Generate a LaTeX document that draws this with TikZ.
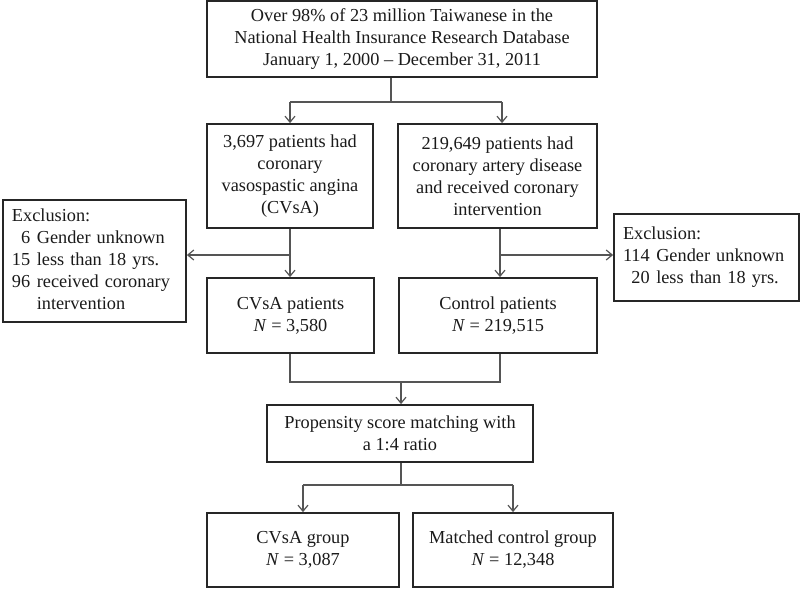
\documentclass[tikz,border=0pt]{standalone}
\usepackage{fontspec}
\setmainfont{Liberation Serif}
\usetikzlibrary{arrows.meta}
\definecolor{boxline}{HTML}{262626}
\definecolor{conline}{HTML}{555555}
\definecolor{txt}{HTML}{1A1A1A}
\tikzset{
  box/.style={draw=boxline, line width=1.8pt, inner sep=0pt, align=center, text=txt,
    font=\fontsize{18.3}{22}\selectfont},
  exbox/.style={box, align=left, inner xsep=9pt, text width=#1},
  conn/.style={draw=conline, line width=1.2pt},
  arr/.style={conn, -{Straight Barb[length=6pt,width=10pt,line width=1.2pt]}}
}
\begin{document}
\begin{tikzpicture}[x=1pt,y=-1pt]
\useasboundingbox[fill=white] (0,0) rectangle (800,589);
% boxes: center, width, height
\node[box, minimum width=390, minimum height=76] (top) at (402,39)
  {Over 98\% of 23 million Taiwanese in the\\National Health Insurance Research Database\\January 1, 2000 -- December 31, 2011};
\node[box, minimum width=166, minimum height=104] (b1l) at (290,176)
  {3,697 patients had\\coronary\\vasospastic angina\\(CVsA)};
\node[box, minimum width=199, minimum height=104] (b1r) at (497.5,176)
  {219,649 patients had\\coronary artery disease\\and received coronary\\intervention};
\node[exbox=165pt, minimum width=183, minimum height=122] (exL) at (94.5,261)
  {\begin{tabular}{@{}r@{\hspace{6.5pt}}l@{}}
   \multicolumn{2}{@{}l@{}}{Exclusion:}\\
   6 & Gender unknown\\
   15 & less than 18 yrs.\\
   96 & received coronary\\
      & intervention
   \end{tabular}};
\node[exbox=167pt, minimum width=185, minimum height=87] (exR) at (706.5,257.5)
  {\begin{tabular}{@{}r@{\hspace{6.5pt}}l@{}}
   \multicolumn{2}{@{}l@{}}{Exclusion:}\\
   114 & Gender unknown\\
   20 & less than 18 yrs.
   \end{tabular}};
\node[box, minimum width=167, minimum height=75] (b2l) at (290.5,315.5)
  {CVsA patients\\\textit{N} = 3,580};
\node[box, minimum width=198, minimum height=75] (b2r) at (498,315.5)
  {Control patients\\\textit{N} = 219,515};
\node[box, minimum width=266, minimum height=57] (prop) at (400,433.5)
  {Propensity score matching with\\a 1:4 ratio};
\node[box, minimum width=192, minimum height=74] (b3l) at (303,550)
  {CVsA group\\\textit{N} = 3,087};
\node[box, minimum width=200, minimum height=74] (b3r) at (513,550)
  {Matched control group\\\textit{N} = 12,348};
% junctions
\coordinate (j1) at (391,102);
\coordinate (j1l) at (290,102);
\coordinate (j1r) at (502,102);
\coordinate (xl) at (290,255);
\coordinate (xr) at (500,255);
\coordinate (m) at (401,382);
\coordinate (ml) at (290,382);
\coordinate (mr) at (500,382);
\coordinate (j3) at (401,485);
% connectors
\draw[conn] (top.south -| j1) -- (j1);
\draw[conn] (j1l) -- (j1r);
\draw[arr] (j1l) -- (b1l.north -| j1l);
\draw[arr] (j1r) -- (b1r.north -| j1r);
\draw[arr] (b1l.south -| xl) -- (b2l.north -| xl);
\draw[arr] (b1r.south -| xr) -- (b2r.north -| xr);
\draw[arr] (xl) -- (exL.east |- xl);
\draw[arr] (xr) -- (exR.west |- xr);
\draw[conn] (b2l.south -| ml) -- (ml) -- (mr) -- (b2r.south -| mr);
\draw[arr] (m) -- (prop.north -| m);
\draw[conn] (prop.south -| j3) -- (j3);
\draw[conn] (b3l.north |- j3) -- (b3r.north |- j3);
\draw[arr] (b3l.north |- j3) -- (b3l.north);
\draw[arr] (b3r.north |- j3) -- (b3r.north);
\end{tikzpicture}
\end{document}
